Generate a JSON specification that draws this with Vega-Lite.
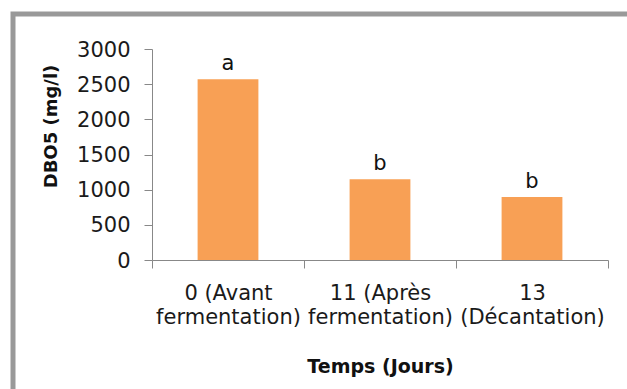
{
  "$schema": "https://vega.github.io/schema/vega-lite/v6.json",
  "width": 614,
  "height": 375,
  "autosize": {"type": "none"},
  "padding": {"left": 13, "top": 14, "right": 0, "bottom": 0},
  "background": "white",
  "config": {
    "view": {"stroke": "#999999", "strokeWidth": 5, "strokeDash": [614, 989, 375]},
    "font": "DejaVu Sans"
  },
  "data": {
    "values": [
      {"temps": "0 (Avant\nfermentation)", "dbo5": 2570, "groupe": "a"},
      {"temps": "11 (Après\nfermentation)", "dbo5": 1147, "groupe": "b"},
      {"temps": "13\n(Décantation)", "dbo5": 896, "groupe": "b"}
    ]
  },
  "encoding": {
    "x": {
      "field": "temps",
      "type": "nominal",
      "sort": null,
      "scale": {"range": [139, 595], "paddingInner": 0, "paddingOuter": 0},
      "axis": {
        "title": "Temps (Jours)",
        "titleFont": "DejaVu Sans",
        "titleFontSize": 19,
        "titleFontWeight": "bold",
        "titleColor": "#111",
        "titleBaseline": "alphabetic",
        "titleY": 112,
        "offset": -129,
        "labelAngle": 0,
        "labelExpr": "split(datum.label, '\\n')",
        "labelFont": "DejaVu Sans",
        "labelFontSize": 21,
        "labelColor": "#1a1a1a",
        "labelBaseline": "alphabetic",
        "labelLineHeight": 24,
        "labelPadding": 31,
        "labelOverlap": false,
        "labelBound": false,
        "labelFlush": false,
        "tickBand": "extent",
        "tickSize": 8,
        "tickColor": "#888888",
        "domainColor": "#888888",
        "grid": false
      }
    },
    "y": {
      "field": "dbo5",
      "type": "quantitative",
      "scale": {"domain": [0, 3000], "range": [246, 35], "nice": false},
      "axis": {
        "title": "DBO5 (mg/l)",
        "titleFont": "DejaVu Sans",
        "titleFontSize": 18,
        "titleFontWeight": "bold",
        "titleColor": "#111",
        "titleBaseline": "alphabetic",
        "titleAngle": 270,
        "titleX": -96,
        "titleY": 112,
        "titleAlign": "center",
        "offset": -139,
        "values": [0, 500, 1000, 1500, 2000, 2500, 3000],
        "format": "d",
        "labelFont": "DejaVu Sans",
        "labelFontSize": 21,
        "labelColor": "#1a1a1a",
        "labelPadding": 14,
        "labelOffset": 1,
        "labelBound": false,
        "labelFlush": false,
        "labelOverlap": false,
        "tickSize": 8,
        "tickColor": "#888888",
        "domainColor": "#888888",
        "grid": false
      }
    }
  },
  "layer": [
    {
      "mark": {"type": "bar", "color": "#F8A055", "width": {"band": 0.4}}
    },
    {
      "mark": {"type": "text", "font": "DejaVu Sans", "fontSize": 21, "color": "#111", "baseline": "alphabetic", "dy": -9},
      "encoding": {"text": {"field": "groupe"}}
    }
  ]
}
